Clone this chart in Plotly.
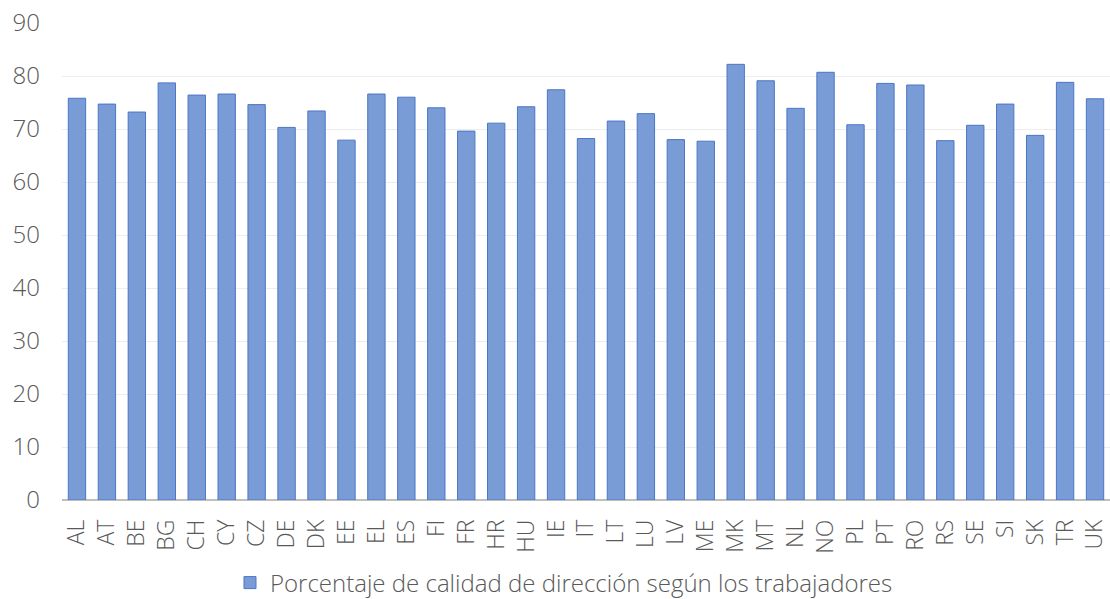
import plotly.graph_objects as go

countries = ["AL", "AT", "BE", "BG", "CH", "CY", "CZ", "DE", "DK", "EE", "EL", "ES",
             "FI", "FR", "HR", "HU", "IE", "IT", "LT", "LU", "LV", "ME", "MK", "MT",
             "NL", "NO", "PL", "PT", "RO", "RS", "SE", "SI", "SK", "TR", "UK"]
calidad_direccion = [75.8, 74.7, 73.2, 78.7, 76.4, 76.6, 74.6, 70.3, 73.4, 67.9, 76.6, 76.0,
                     74.0, 69.6, 71.1, 74.2, 77.4, 68.2, 71.5, 72.9, 68.0, 67.7, 82.2, 79.1,
                     73.9, 80.7, 70.8, 78.6, 78.3, 67.8, 70.7, 74.7, 68.8, 78.8, 75.7]
serie = "Porcentaje de calidad de dirección según los trabajadores"
y_ticks = list(range(0, 91, 10))

font_family = "'Open Sans', Lato, sans-serif"
text_color = "#595959"

fig = go.Figure(
    go.Bar(
        x=countries,
        y=calidad_direccion,
        name=serie,
        marker=dict(color="#7A9CD6", line=dict(color="#4A76C6", width=1)),
        showlegend=True,
    )
)

fig.update_layout(
    width=1110,
    height=599,
    margin=dict(l=62, r=0, t=23, b=99, autoexpand=False),
    paper_bgcolor="white",
    plot_bgcolor="white",
    bargap=0.42,
    font=dict(family=font_family, color=text_color, size=23, weight=300),
    legend=dict(
        orientation="h",
        x=0.479,
        xanchor="center",
        y=-0.174,
        yanchor="middle",
        font=dict(family=font_family, size=24, color=text_color, weight=300),
        itemwidth=30,
    ),
)

fig.update_xaxes(
    type="category",
    tickangle=-90,
    tickfont=dict(family=font_family, size=23, color=text_color, weight=300),
    ticklabelstandoff=14,
    automargin=False,
    showgrid=False,
    showline=False,
    ticks="",
)

fig.update_yaxes(
    range=[0, 90],
    tickvals=y_ticks,
    tickfont=dict(family=font_family, size=24, color=text_color, weight=300),
    ticklabelstandoff=21,
    automargin=False,
    showgrid=True,
    gridcolor="#EDEDED",
    gridwidth=1,
    zeroline=True,
    zerolinecolor="#BFBFBF",
    zerolinewidth=2,
    showline=False,
    ticks="",
)

fig.write_html("out.html")
